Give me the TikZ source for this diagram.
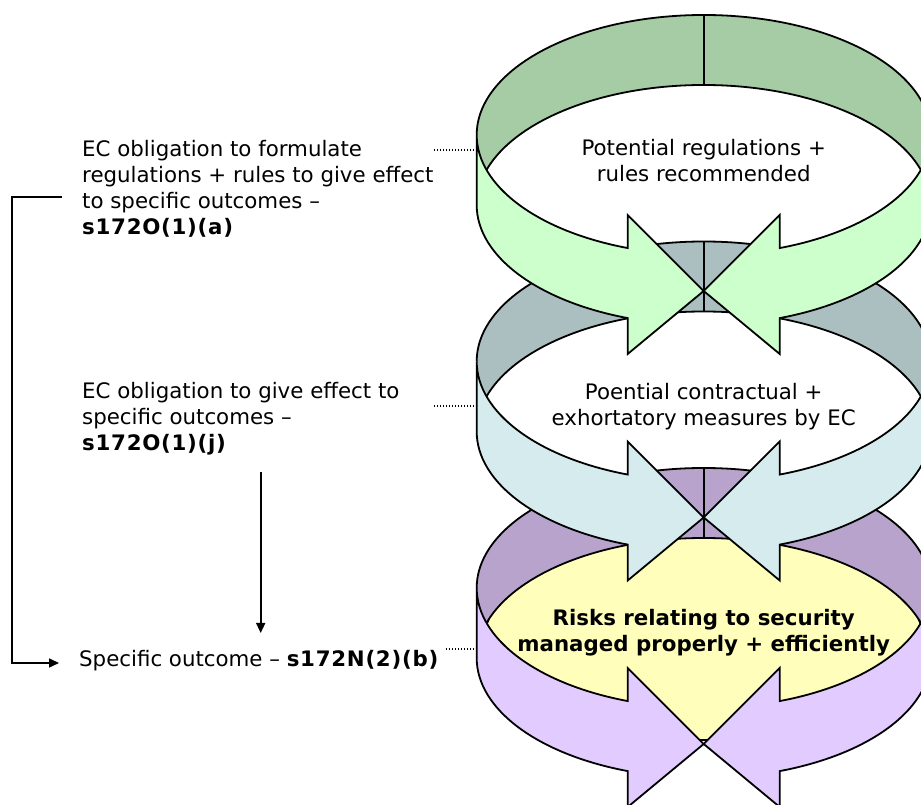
\documentclass[tikz,border=0pt]{standalone}
\usepackage{fontspec}
\setmainfont{DejaVu Sans}
\usetikzlibrary{arrows.meta,calc}

\definecolor{bandAback}{RGB}{165,204,165}
\definecolor{bandAfront}{RGB}{204,255,204}
\definecolor{bandBback}{RGB}{171,190,192}
\definecolor{bandBfront}{RGB}{214,235,238}
\definecolor{bandCback}{RGB}{183,163,203}
\definecolor{bandCfront}{RGB}{226,204,255}
\definecolor{corefill}{RGB}{255,255,187}

% section references set a little wider
\newcommand{\secref}[1]{\textbf{\addfontfeature{LetterSpace=3.4}#1}}

\tikzset{
  rim/.style={draw=black, line width=1.8pt, line join=miter},
  label/.style={inner sep=0pt, font=\fontsize{21.33}{25.9}\selectfont, align=center},
  sidetext/.style={inner sep=0pt, font=\fontsize{21.33}{25.9}\selectfont, align=left},
  link/.style={draw=black, line width=1.6pt, -{Triangle[length=10pt,width=9pt]}},
  bracket/.style={draw=black, line width=1.6pt},
  leader/.style={draw=black, line width=1.2pt, dash pattern=on 1.1pt off 1.9pt}
}

% One circular band: upper rim centred at (703.7,#1); #2 inner (back) colour, #3 outer (front) colour
\newcommand{\cycleband}[3]{%
\begin{scope}[shift={(703.7,#1)}]
  % inner face of the back half
  \begin{scope}
    \clip (0,0) ellipse [x radius=227, y radius=120];
    \fill[#2, even odd rule] (-240,-200) rectangle (240,130)
          (0,-70) ellipse [x radius=227, y radius=120];
    \draw[rim] (0,-70) ellipse [x radius=227, y radius=120];
  \end{scope}
  \draw[rim] (-227,0) arc[start angle=180, end angle=0, x radius=227, y radius=120];
  \draw[rim] (0,120) -- (0,50);
  % front half: two arrows meeting in the middle
  \filldraw[rim, fill=#3] (-227,0)
      arc[start angle=180, end angle=250.44, x radius=227, y radius=120]
      -- (-76,-80) -- (0,-156) -- (-76,-219) -- (-76,-183.1)
      arc[start angle=250.44, end angle=180, x radius=227, y radius=120]
      -- cycle;
  \filldraw[rim, fill=#3] (227,0)
      arc[start angle=0, end angle=-70.44, x radius=227, y radius=120]
      -- (76,-80) -- (0,-156) -- (76,-219) -- (76,-183.1)
      arc[start angle=-70.44, end angle=0, x radius=227, y radius=120]
      -- cycle;
\end{scope}}

\begin{document}
\begin{tikzpicture}[x=1pt, y=1pt]
  \useasboundingbox (0,0) rectangle (921,805);
  \fill[white] (0,0) rectangle (921,805);
  \begin{scope}
    \clip (0,0) rectangle (921,805);
    % bottom band with its yellow core
    \filldraw[rim, fill=corefill] (703.7,166.5) ellipse [x radius=219, y radius=101.5];
    \cycleband{217}{bandCback}{bandCfront}
    % middle band
    \cycleband{443.5}{bandBback}{bandBfront}
    % top band
    \cycleband{670}{bandAback}{bandAfront}
  \end{scope}

  % texts inside the bands
  \node[label] (inA) at (703.7,644.5) {Potential regulations +\\rules recommended};
  \node[label] (inB) at (703.7,398.5) {Poential contractual +\\exhortatory measures by EC};
  \node[label, font=\fontsize{21.33}{25.9}\selectfont\bfseries] (inC) at (703.7,172)
       {Risks relating to security\\managed properly + efficiently};

  % texts on the left
  \node[sidetext, anchor=west] (obA) at (82,616.5)
       {EC obligation to formulate\\regulations + rules to give effect\\to specific outcomes –\\\secref{s172O(1)(a)}};
  \node[sidetext, anchor=west] (obJ) at (82,386)
       {EC obligation to give effect to\\specific outcomes –\\\secref{s172O(1)(j)}};
  \node[sidetext, anchor=base west] (outc) at (79,138.5)
       {Specific outcome – \secref{s172N(2)(b)}};

  % connectors
  \coordinate (brk) at (62,608);
  \coordinate (brkend) at (59,142);
  \draw[bracket] (brk) -- ++(-50,0) |- ([xshift=-8pt]brkend);
  \draw[link] ([xshift=-10pt]brkend) -- (brkend);

  \coordinate (vtop) at (260.7,333);
  \coordinate (vbot) at (260.7,172);
  \draw[link] (vtop) -- (vbot);

  % dotted leaders towards the bands
  \coordinate (ldA) at (474,655);
  \coordinate (ldB) at (474,399);
  \coordinate (ldC) at (474,156);
  \draw[leader] (ldA) -- ++(-41,0);
  \draw[leader] (ldB) -- ++(-41,0);
  \draw[leader] (ldC) -- ++(-28,0);
\end{tikzpicture}
\end{document}
